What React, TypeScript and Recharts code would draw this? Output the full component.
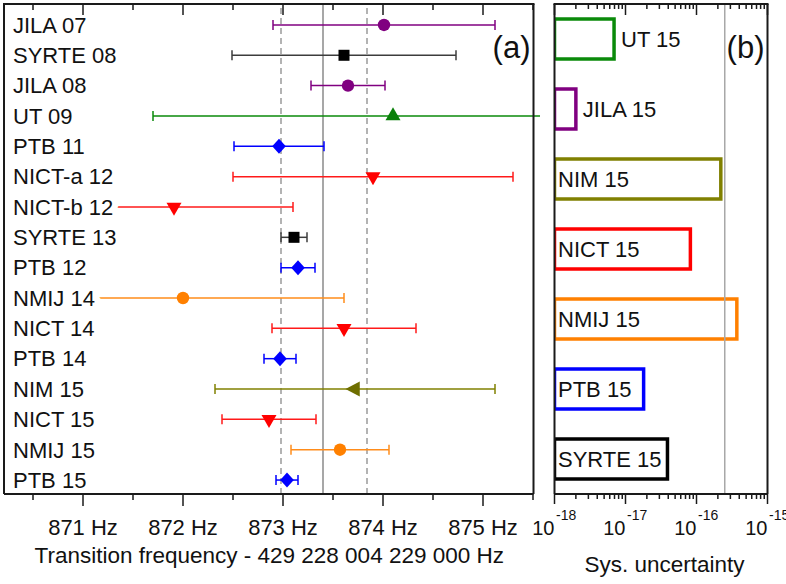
import React from 'react';
import {
  ScatterChart, Scatter, XAxis, YAxis, ErrorBar, ReferenceLine,
  BarChart, Bar, Cell, LabelList, Label,
} from 'recharts';

const FONT = '"Liberation Sans", Arial, Helvetica, sans-serif';
const INK = '#111111';
const FRAME = '#1a1a1a';
const PLOT_H = 490;

// ---------- panel (a) data ----------
const measurementLabels = ['JILA 07', 'SYRTE 08', 'JILA 08', 'UT 09', 'PTB 11', 'NICT-a 12', 'NICT-b 12', 'SYRTE 13',
  'PTB 12', 'NMIJ 14', 'NICT 14', 'PTB 14', 'NIM 15', 'NICT 15', 'NMIJ 15', 'PTB 15'];
const measurementLabs = ['JILA', 'SYRTE', 'JILA', 'UT', 'PTB', 'NICT', 'NICT', 'SYRTE',
  'PTB', 'NMIJ', 'NICT', 'PTB', 'NIM', 'NICT', 'NMIJ', 'PTB'];
const frequencies = [874.01, 873.61, 873.65, 874.10, 872.96, 873.90, 871.91, 873.11,
  873.15, 872.00, 873.61, 872.97, 873.72, 872.86, 873.57, 873.04];
const uncertainties = [1.11, 1.12, 0.37, 2.40, 0.45, 1.40, 1.19, 0.13,
  0.17, 1.61, 0.72, 0.16, 1.40, 0.47, 0.49, 0.11];
const dashedRefs = [872.98, 873.84];
const solidRef = 873.40;
const freqTicks = [870.5, 871, 871.5, 872, 872.5, 873, 873.5, 874, 874.5, 875, 875.5];

// ---------- panel (b) data ----------
const sysLabels = ['UT 15', 'JILA 15', 'NIM 15', 'NICT 15', 'NMIJ 15', 'PTB 15', 'SYRTE 15'];
const sysLabs = ['UT', 'JILA', 'NIM', 'NICT', 'NMIJ', 'PTB', 'SYRTE'];
const sysValues = [6.9e-18, 2.0e-18, 2.2e-16, 8.2e-17, 3.7e-16, 1.8e-17, 3.9e-17];
const sysReference = 2.5e-16;
const sysDecades = [-18, -17, -16, -15];

// ---------- styles ----------
const LAB_STYLE: Record<string, { color: string; err: string; marker: string; bar: string }> = {
  JILA: { color: '#800080', err: '#800080', marker: 'circle', bar: '#800080' },
  SYRTE: { color: '#000000', err: '#3c3c3c', marker: 'square', bar: '#000000' },
  UT: { color: '#0a800a', err: '#0a8a0a', marker: 'triangleUp', bar: '#0a8a0a' },
  PTB: { color: '#0000ff', err: '#0000ff', marker: 'diamond', bar: '#0000ff' },
  NICT: { color: '#ff0000', err: '#ff1a1a', marker: 'triangleDown', bar: '#ff0000' },
  NMIJ: { color: '#ff8000', err: '#ff8c1a', marker: 'circle', bar: '#ff8000' },
  NIM: { color: '#6e6e00', err: '#808000', marker: 'triangleLeft', bar: '#808000' },
};
const labOrder = ['SYRTE', 'JILA', 'UT', 'PTB', 'NICT', 'NMIJ', 'NIM'];

const FREQ_DOMAIN: [number, number] = [870.21, 875.505];
const ROW_DOMAIN: [number, number] = [-0.69, 15.46];
const LOG_DOMAIN: [number, number] = [1e-18, 1e-15];
const rowTicks = measurementLabels.map((_, i) => i);

const rows = measurementLabels.map((label, i) => ({
  label, lab: measurementLabs[i], x: frequencies[i], y: i, err: uncertainties[i],
}));
const labelRows = measurementLabels.map((label, i) => ({ x: FREQ_DOMAIN[0], y: i, label }));

const sysData = sysLabels.map((name, i) => ({ name, lab: sysLabs[i], value: sysValues[i] }));
const logTicks: number[] = [];
sysDecades.forEach((e, i) => {
  if (i < sysDecades.length - 1) {
    for (let m = 1; m <= 9; m++) logTicks.push(Number(`${m}e${e}`));
  } else {
    logTicks.push(Number(`1e${e}`));
  }
});

const isInt = (v: number) => Math.abs(v - Math.round(v)) < 1e-6;

// ---------- shapes ----------
function Marker(props: any) {
  const { cx, cy, kind, fill } = props;
  if (cx == null || cy == null) return null;
  switch (kind) {
    case 'circle':
      return <circle cx={cx} cy={cy} r={6.2} fill={fill} />;
    case 'square':
      return <rect x={cx - 5.5} y={cy - 5.5} width={11} height={11} fill={fill} />;
    case 'diamond':
      return <polygon points={`${cx},${cy - 7.5} ${cx + 6.8},${cy} ${cx},${cy + 7.5} ${cx - 6.8},${cy}`} fill={fill} />;
    case 'triangleUp': {
      const w = 15, h = 13;
      return <polygon points={`${cx - w / 2},${cy + h / 3} ${cx + w / 2},${cy + h / 3} ${cx},${cy - (2 * h) / 3}`} fill={fill} />;
    }
    case 'triangleDown': {
      const w = 15, h = 13;
      return <polygon points={`${cx - w / 2},${cy - h / 3} ${cx + w / 2},${cy - h / 3} ${cx},${cy + (2 * h) / 3}`} fill={fill} />;
    }
    case 'triangleLeft': {
      const w = 14.3, h = 15;
      return <polygon points={`${cx + w / 3},${cy - h / 2} ${cx + w / 3},${cy + h / 2} ${cx - (2 * w) / 3},${cy}`} fill={fill} />;
    }
    default:
      return <circle cx={cx} cy={cy} r={6} fill={fill} />;
  }
}

function RowLabel(props: any) {
  const { cx, cy } = props;
  const label = props.payload?.label ?? props.label;
  const idx = props.payload?.y ?? 0;
  if (cx == null || cy == null) return null;
  const clipId = `row-label-clip-${idx}`;
  return (
    <g>
      <clipPath id={clipId}>
        <rect x={cx + 2} y={cy - 8} width={200} height={16} />
      </clipPath>
      <text x={cx + 9} y={cy} dy="0.355em" fontSize={22} fontFamily={FONT} fill="#ffffff"
        stroke="#ffffff" strokeWidth={13} strokeLinejoin="round" clipPath={`url(#${clipId})`}>
        {label}
      </text>
      <text x={cx + 9} y={cy} dy="0.355em" fontSize={22} fontFamily={FONT} fill={INK}>
        {label}
      </text>
    </g>
  );
}

// bottom tick (outward) + mirrored top tick (inward)
function FreqTick(props: any) {
  const { x, y, payload } = props;
  const v = payload.value;
  const major = isInt(v);
  const top = y - PLOT_H;
  return (
    <g>
      <line x1={x} x2={x} y1={y} y2={y + (major ? 12 : 6)} stroke={FRAME} strokeWidth={1.5} />
      <line x1={x} x2={x} y1={top} y2={top + (major ? 11 : 6)} stroke={FRAME} strokeWidth={1.5} />
      {major && (
        <text x={x} y={y + 41} textAnchor="middle" fontSize={22} fontFamily={FONT} fill={INK}>{`${v} Hz`}</text>
      )}
    </g>
  );
}

function LogTick(props: any) {
  const { x, y, payload } = props;
  const ex = Math.log10(payload.value);
  const major = isInt(ex);
  const top = y - PLOT_H;
  return (
    <g>
      <line x1={x} x2={x} y1={y} y2={y + (major ? 10 : 5)} stroke={FRAME} strokeWidth={1.5} />
      <line x1={x} x2={x} y1={top} y2={top + (major ? 11 : 5)} stroke={FRAME} strokeWidth={1.5} />
      {major && (
        <text y={y + 41} fontFamily={FONT} fill={INK}>
          <tspan x={x} textAnchor="end" fontSize={20}>10</tspan>
          <tspan x={x + 1.5} dy={-15} textAnchor="start" fontSize={14}>{`-${Math.abs(Math.round(ex))}`}</tspan>
        </text>
      )}
    </g>
  );
}

// axis title + top frame edge + panel tag, placed from the bottom axis box
function AxisDecor(props: any) {
  const { viewBox: vb, title, tag, titleDx, titleDy } = props;
  if (!vb) return null;
  const top = vb.y - PLOT_H;
  return (
    <g>
      <line x1={vb.x - 1} x2={vb.x + vb.width + 1} y1={top} y2={top} stroke={FRAME} strokeWidth={2} />
      <text x={vb.x + vb.width - 3} y={top + 54} textAnchor="end" fontSize={31} fontFamily={FONT} fill={INK}>{tag}</text>
      <text x={vb.x + vb.width / 2 + titleDx} y={vb.y + titleDy} textAnchor="middle" fontSize={22.5} fontFamily={FONT} fill={INK}>
        {title}
      </text>
    </g>
  );
}

function SysLabel(props: any) {
  const vb = props.viewBox && props.viewBox.width != null ? props.viewBox : props;
  const { x, y, width, height } = vb;
  if (x == null) return null;
  const outside = width < 80;
  return (
    <text x={outside ? x + width + 7 : x + 3.5} y={y + height / 2} dy="0.355em"
      fontSize={22} fontFamily={FONT} fill={INK}>
      {props.value}
    </text>
  );
}

const axisLine = { stroke: FRAME, strokeWidth: 2 };

export default function App() {
  return (
    <div style={{ position: 'absolute', left: 0, top: 0, width: 786, height: 584, background: '#ffffff', overflow: 'hidden' }}>
      <div style={{ position: 'absolute', left: 0, top: 0 }}>
        <ScatterChart width={540} height={584} margin={{ top: 4, right: 5.5, left: 3, bottom: 10 }}>
          {dashedRefs.map((v) => (
            <ReferenceLine key={v} x={v} xAxisId="fx" yAxisId="yl" stroke="#9a9a9a" strokeWidth={1.5} strokeDasharray="6 4" />
          ))}
          <ReferenceLine x={solidRef} xAxisId="fx" yAxisId="yl" stroke="#8a8a8a" strokeWidth={1.5} />
          {labOrder.map((lab) => {
            const st = LAB_STYLE[lab];
            return (
              <Scatter key={lab} name={lab} data={rows.filter((r) => r.lab === lab)} xAxisId="fx" yAxisId="yl"
                isAnimationActive={false}
                shape={(p: any) => <Marker {...p} kind={st.marker} fill={st.color} />}>
                <ErrorBar dataKey="err" direction="x" width={5} stroke={st.err} strokeWidth={1.5} isAnimationActive={false} />
              </Scatter>
            );
          })}
          <Scatter name="labels" data={labelRows} xAxisId="fx" yAxisId="yl" isAnimationActive={false}
            shape={(p: any) => <RowLabel {...p} />} />
          <XAxis xAxisId="fx" type="number" dataKey="x" domain={FREQ_DOMAIN} allowDataOverflow ticks={freqTicks}
            interval={0} height={80} tickLine={false} tickSize={0} tickMargin={0} axisLine={axisLine}
            tick={(p: any) => <FreqTick {...p} />}>
            <Label content={(p: any) => (
              <AxisDecor {...p} tag="(a)" title="Transition frequency - 429 228 004 229 000 Hz" titleDx={0.5} titleDy={68.5} />
            )} />
          </XAxis>
          <YAxis yAxisId="yl" type="number" dataKey="y" domain={ROW_DOMAIN} reversed allowDataOverflow ticks={rowTicks}
            width={1} tick={false} tickLine={false} axisLine={axisLine} />
          <YAxis yAxisId="yr" orientation="right" type="number" dataKey="y" domain={ROW_DOMAIN} reversed allowDataOverflow
            ticks={rowTicks} width={1} tick={false} tickLine={false} axisLine={axisLine} />
        </ScatterChart>
      </div>
      <div style={{ position: 'absolute', left: 500, top: 0 }}>
        <BarChart layout="vertical" width={286} height={584} data={sysData}
          margin={{ top: 4, right: 17.5, left: 53.5, bottom: 10 }}>
          <ReferenceLine x={sysReference} xAxisId="sx" yAxisId="sl" stroke="#a8a8a8" strokeWidth={1.5} />
          <Bar dataKey="value" xAxisId="sx" yAxisId="sl" barSize={40} fill="none" strokeWidth={3.5} isAnimationActive={false}>
            {sysData.map((d) => (
              <Cell key={d.name} stroke={LAB_STYLE[d.lab].bar} fill="none" />
            ))}
            <LabelList dataKey="name" content={(p: any) => <SysLabel {...p} />} />
          </Bar>
          <XAxis xAxisId="sx" type="number" scale="log" domain={LOG_DOMAIN} allowDataOverflow ticks={logTicks}
            interval={0} height={80} tickLine={false} tickSize={0} tickMargin={0} axisLine={axisLine}
            tick={(p: any) => <LogTick {...p} />}>
            <Label content={(p: any) => (
              <AxisDecor {...p} tag="(b)" title="Sys. uncertainty" titleDx={3.5} titleDy={78} />
            )} />
          </XAxis>
          <YAxis yAxisId="sl" type="category" dataKey="name" width={1} tick={false} tickLine={false} axisLine={axisLine} />
          <YAxis yAxisId="sr" orientation="right" type="category" dataKey="name" width={1} tick={false} tickLine={false} axisLine={axisLine} />
        </BarChart>
      </div>
    </div>
  );
}
